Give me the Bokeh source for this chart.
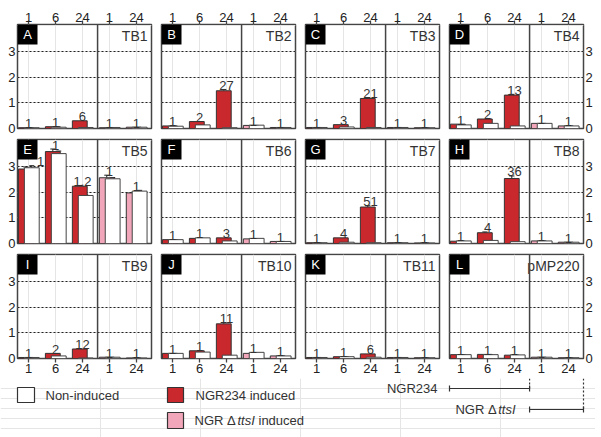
import numpy as np
from bokeh.plotting import figure
from bokeh.models import (Range1d, LinearAxis, FixedTicker, Grid, Span, Whisker, TeeHead,
                          ColumnDataSource, Arrow)
from bokeh.layouts import gridplot, column
from bokeh.embed import file_html
from bokeh.resources import INLINE
from bokeh.core.properties import value

# ---------------- data ----------------
letters = ["A", "B", "C", "D", "E", "F", "G", "H", "I", "J", "K", "L"]
titles = ["TB1", "TB2", "TB3", "TB4", "TB5", "TB6", "TB7", "TB8", "TB9", "TB10", "TB11", "pMP220"]
tick_labels = ["1", "6", "24", "1", "24"]          # hours; first 3 NGR234, last 2 NGRΔttsI

# induced bars (first 3 = NGR234 induced, last 2 = NGRΔttsI induced)
induced = [
    [0.03, 0.07, 0.30, 0.03, 0.05],   # TB1
    [0.10, 0.27, 1.47, 0.12, 0.04],   # TB2
    [0.04, 0.15, 1.17, 0.04, 0.03],   # TB3
    [0.17, 0.37, 1.30, 0.20, 0.10],   # TB4
    [2.90, 3.58, 2.23, 2.56, 1.97],   # TB5
    [0.15, 0.20, 0.22, 0.18, 0.08],   # TB6
    [0.03, 0.22, 1.42, 0.03, 0.02],   # TB7
    [0.09, 0.42, 2.53, 0.10, 0.05],   # TB8
    [0.04, 0.20, 0.37, 0.05, 0.02],   # TB9
    [0.20, 0.30, 1.35, 0.20, 0.10],   # TB10
    [0.04, 0.07, 0.18, 0.04, 0.03],   # TB11
    [0.15, 0.16, 0.13, 0.05, 0.03],   # pMP220
]
noninduced = [
    [0.03, 0.05, 0.04, 0.04, 0.05],
    [0.09, 0.14, 0.03, 0.13, 0.04],
    [0.04, 0.06, 0.04, 0.04, 0.03],
    [0.14, 0.20, 0.10, 0.20, 0.10],
    [2.95, 3.50, 1.87, 2.52, 2.04],
    [0.15, 0.22, 0.10, 0.20, 0.08],
    [0.03, 0.05, 0.03, 0.03, 0.02],
    [0.10, 0.12, 0.07, 0.10, 0.05],
    [0.04, 0.10, 0.02, 0.05, 0.02],
    [0.20, 0.25, 0.13, 0.24, 0.10],
    [0.04, 0.07, 0.05, 0.04, 0.03],
    [0.15, 0.15, 0.14, 0.05, 0.03],
]
err_induced = [
    [0, 0, 0, 0, 0],
    [0, 0, 0.05, 0, 0],
    [0, 0, 0.03, 0, 0],
    [0, 0, 0.03, 0, 0],
    [0.08, 0.10, 0.03, 0.10, 0.02],
    [0, 0, 0, 0, 0],
    [0, 0, 0.05, 0, 0],
    [0, 0.03, 0.10, 0, 0],
    [0, 0, 0, 0, 0],
    [0, 0, 0.05, 0, 0],
    [0, 0, 0, 0, 0],
    [0, 0, 0, 0, 0],
]
err_noninduced = [
    [0, 0, 0, 0, 0],
    [0, 0, 0, 0, 0],
    [0, 0, 0, 0, 0],
    [0, 0, 0, 0, 0],
    [0.08, 0.10, 0.02, 0.05, 0.03],
    [0, 0, 0, 0, 0],
    [0, 0, 0, 0, 0],
    [0, 0, 0, 0, 0],
    [0, 0, 0, 0, 0],
    [0, 0, 0, 0, 0],
    [0, 0, 0, 0, 0],
    [0, 0, 0, 0, 0],
]
fold_change = [
    ["1", "1", "6", "1", "1"],
    ["1", "2", "27", "1", "1"],
    ["1", "3", "21", "1", "1"],
    ["1", "2", "13", "1", "1"],
    ["1", "1", "1.2", "1", "1"],
    ["1", "1", "3", "1", "1"],
    ["1", "4", "51", "1", "1"],
    ["1", "4", "36", "1", "1"],
    ["1", "2", "12", "1", "1"],
    ["1", "1", "11", "1", "1"],
    ["1", "1", "6", "1", "1"],
    ["1", "1", "1", "1", "1"],
]
label_dx = {"E": [0.45, 0, 0, 0, 0]}

# ---------------- style / layout ----------------
FONT = "Liberation Sans"
RED = "#c9282d"
PINK = "#f2a6b9"
DARK = "#333333"
FRAME_W, FRAME_H = 134, 104
XMIN, XMAX, YMAX, DIV = -0.41, 4.56, 4.05, 2.56
PXX = FRAME_W / (XMAX - XMIN)
PXY = FRAME_H / YMAX
OFF_C, OFF_W, BW = -0.10, 0.12, 0.55
TICK_LEN = 4
col_left = [17, 5, 5, 5]
col_right = [5, 5, 5, 12]
row_top = [24, 3, 3]
row_bottom = [8, 8, 20]

rows = []
for r in range(3):
    row = []
    for c in range(4):
        i = r * 4 + c
        W = col_left[c] + FRAME_W + col_right[c]
        H = row_top[r] + FRAME_H + row_bottom[r]
        p = figure(width=W, height=H, x_range=Range1d(XMIN, XMAX), y_range=Range1d(0, YMAX),
                   toolbar_location=None, output_backend="svg",
                   x_axis_location=None, y_axis_location=None,
                   min_border_left=col_left[c], min_border_right=col_right[c],
                   min_border_top=row_top[r], min_border_bottom=row_bottom[r],
                   outline_line_color="#444444", outline_line_width=1.5,
                   background_fill_color="white", border_fill_color="white")

        p.add_layout(Grid(dimension=1, ticker=FixedTicker(ticks=[1, 2, 3]),
                          grid_line_color="#222222", grid_line_dash="2 2", grid_line_width=1.2))
        p.add_layout(Span(location=DIV, dimension="height", line_color="#444444", line_width=1.5))

        overrides = {k: t for k, t in enumerate(tick_labels)}
        axis_style = dict(axis_line_color=None, major_tick_in=0, major_tick_out=TICK_LEN,
                          major_tick_line_color="#444444", major_tick_line_width=1.3,
                          minor_tick_line_color=None, major_label_text_font=FONT,
                          major_label_text_font_size="13px", major_label_text_color="#222222")
        if r == 2:
            bx = LinearAxis(ticker=FixedTicker(ticks=list(range(5))), major_label_overrides=overrides,
                            major_label_standoff=1, **axis_style)
            p.add_layout(bx, "below")
        else:
            # unlabeled tick marks under the panel
            tsrc = ColumnDataSource(dict(x=list(range(len(tick_labels))),
                                         lo=[-TICK_LEN / PXY] * len(tick_labels),
                                         hi=[0] * len(tick_labels)))
            p.add_layout(Whisker(source=tsrc, base="x", lower="lo", upper="hi",
                                 line_color="#444444", line_width=1.3,
                                 upper_head=None, lower_head=None))

        if r == 0:
            tx = LinearAxis(ticker=FixedTicker(ticks=list(range(5))), major_label_overrides=overrides,
                            major_label_standoff=-1, **axis_style)
            p.add_layout(tx, "above")
        if c == 0 or c == 3:
            ya = LinearAxis(ticker=FixedTicker(ticks=[0, 1, 2, 3]), axis_line_color=None,
                            major_tick_in=0, major_tick_out=0, minor_tick_line_color=None,
                            major_label_standoff=2, major_label_text_font=FONT,
                            major_label_text_font_size="13px", major_label_text_color="#222222")
            p.add_layout(ya, "left" if c == 0 else "right")

        xs = np.arange(5)
        colors = [RED] * 3 + [PINK] * 2
        p.vbar(x=xs + OFF_C, top=induced[i], bottom=0, width=BW, fill_color=colors,
               line_color="#333333", line_width=1)
        p.vbar(x=xs + OFF_W, top=noninduced[i], bottom=0, width=BW, fill_color="white",
               line_color="#444444", line_width=1)

        for xoff, vals, errs in [(OFF_C, induced[i], err_induced[i]),
                                 (OFF_W, noninduced[i], err_noninduced[i])]:
            idx = [k for k in range(5) if errs[k] > 0]
            if idx:
                ws = ColumnDataSource(dict(base=[k + xoff for k in idx],
                                           lower=[vals[k] for k in idx],
                                           upper=[vals[k] + errs[k] for k in idx]))
                p.add_layout(Whisker(source=ws, base="base", lower="lower", upper="upper",
                                     line_color="#222222", line_width=1,
                                     upper_head=TeeHead(size=5, line_color="#222222", line_width=1),
                                     lower_head=None))

        dx = label_dx.get(letters[i], [0] * 5)
        ly = [max(induced[i][k] + err_induced[i][k], noninduced[i][k] + err_noninduced[i][k]) + 4 / PXY
              for k in range(5)]
        p.text(x=[k + dx[k] for k in range(5)], y=ly, text=fold_change[i], text_align="center",
               text_baseline="alphabetic", text_font=value(FONT), text_font_size="13px",
               text_color=DARK)

        p.quad(left=[XMIN], right=[XMIN + 20 / PXX], top=[YMAX], bottom=[YMAX - 20 / PXY],
               fill_color="black", line_color=None)
        p.text(x=[XMIN + 10 / PXX], y=[YMAX - 10 / PXY], text=[letters[i]], text_align="center",
               text_baseline="middle", text_font=value(FONT), text_font_size="13px",
               text_color="white")
        p.text(x=[XMAX - 4 / PXX], y=[YMAX - 11 / PXY], text=[titles[i]], text_align="right",
               text_baseline="middle", text_font=value(FONT), text_font_size="14px",
               text_color=DARK)

        if i == 11:
            for xa in (DIV, XMAX):
                p.add_layout(Arrow(start=None, end=None, x_start=xa, y_start=0, x_end=xa,
                                   y_end=-row_bottom[r] / PXY, line_dash="2 2",
                                   line_color="#333333", line_width=1.2))
        row.append(p)
    rows.append(row)

grid = gridplot(rows, toolbar_location=None)

# ---------------- legend strip ----------------
TOTAL_W = sum(col_left) + sum(col_right) + 4 * FRAME_W
LEG_H = 437 - sum(row_top) - sum(row_bottom) - 3 * FRAME_H
lg = figure(width=TOTAL_W, height=LEG_H, x_range=Range1d(0, TOTAL_W), y_range=Range1d(LEG_H, 0),
            toolbar_location=None, output_backend="svg", x_axis_location=None, y_axis_location=None,
            min_border=0, outline_line_color=None, background_fill_color="white",
            border_fill_color="white")

tf = dict(text_font=value(FONT), text_font_size="13px", text_color=DARK, text_baseline="middle")
lg.quad(left=[17, 167, 167], right=[34, 183, 183], top=[9, 9, 34], bottom=[24, 24, 50],
        fill_color=["white", RED, PINK], line_color="#333333", line_width=1.2)
lg.text(x=[45, 195], y=[17, 17], text=["Non-induced", "NGR234 induced"], **tf)
lg.text(x=[194], y=[42], text=["NGR Δ"], **tf)
lg.text(x=[237], y=[42], text=["ttsI"], text_font_style="italic", **tf)
lg.text(x=[258], y=[42], text=["induced"], **tf)

# brackets for the last panel (strain ranges)
L_left = sum(col_left[:3]) + sum(col_right[:3]) + 3 * FRAME_W + col_left[3]
x_div = L_left + (DIV - XMIN) * PXX
x_right = L_left + FRAME_W
y1, y2 = 10, 31
lg.segment(x0=[L_left, x_div], y0=[y1, y2], x1=[x_div, x_right], y1=[y1, y2],
           line_color="#333333", line_width=1.2)
lg.segment(x0=[L_left, x_div, x_div, x_right], y0=[y1 - 3, y1 - 3, y2 - 3, y2 - 3],
           x1=[L_left, x_div, x_div, x_right], y1=[y1 + 3, y1 + 3, y2 + 3, y2 + 3],
           line_color="#333333", line_width=1.2)
lg.segment(x0=[x_div, x_right], y0=[0, 0], x1=[x_div, x_right], y1=[y1, y2],
           line_color="#333333", line_width=1.2, line_dash="2 2")
lg.text(x=[L_left - 12], y=[y1], text=["NGR234"], text_align="right", **tf)
lg.text(x=[x_div - 14 - 19], y=[y2], text=["NGR Δ"], text_align="right", **tf)
lg.text(x=[x_div - 14], y=[y2], text=["ttsI"], text_align="right", text_font_style="italic", **tf)

layout = column(grid, lg)
open("out.html", "w").write(file_html(layout, INLINE))
